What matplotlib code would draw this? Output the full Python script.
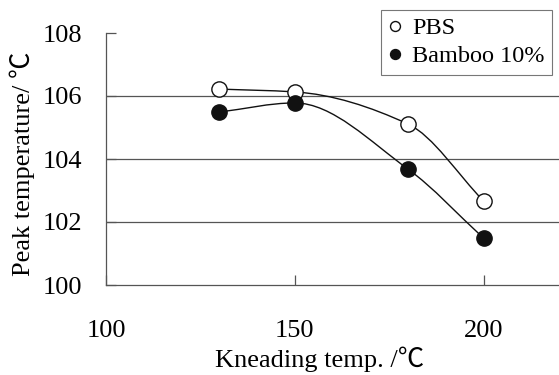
import numpy as np
import matplotlib
matplotlib.use("Agg")
import matplotlib.pyplot as plt
from matplotlib.path import Path
from matplotlib.patches import PathPatch

plt.rcParams['font.family'] = ['Liberation Serif', 'Noto Sans CJK JP', 'DejaVu Sans']

# data
kneading_temp = [130, 150, 180, 200]
pbs_peak = [106.22, 106.13, 105.11, 102.67]
bamboo_peak = [105.49, 105.78, 103.68, 101.49]

x_ticks = [100, 150, 200]
y_ticks = [100, 102, 104, 106, 108]
grid_y = [102, 104, 106]


def smooth_path(xs, ys):
    # monotone (Fritsch-Carlson style) hermite pieces drawn as bezier curves
    x = np.asarray(xs, float)
    y = np.asarray(ys, float)
    h = np.diff(x)
    d = np.diff(y) / h
    m = np.zeros_like(y)
    m[0], m[-1] = d[0], d[-1]
    for i in range(1, len(x) - 1):
        if d[i - 1] * d[i] > 0:
            w1 = 2 * h[i] + h[i - 1]
            w2 = h[i] + 2 * h[i - 1]
            m[i] = (w1 + w2) / (w1 / d[i - 1] + w2 / d[i])
    verts = [(x[0], y[0])]
    codes = [Path.MOVETO]
    for i in range(len(x) - 1):
        verts += [(x[i] + h[i] / 3, y[i] + m[i] * h[i] / 3),
                  (x[i + 1] - h[i] / 3, y[i + 1] - m[i + 1] * h[i] / 3),
                  (x[i + 1], y[i + 1])]
        codes += [Path.CURVE4] * 3
    return Path(verts, codes)


fig = plt.figure(figsize=(5.59, 3.75), dpi=100)
ax = fig.add_axes([106 / 559, 1 - 285 / 375, 453 / 559, 252 / 375])

ax.set_xlim(100, 220)
ax.set_ylim(100, 108)

for g in grid_y:
    ax.axhline(g, color='#555555', lw=0.9, zorder=1)

for ys in (pbs_peak, bamboo_peak):
    ax.add_patch(PathPatch(smooth_path(kneading_temp, ys), facecolor='none',
                           edgecolor='#111111', lw=1.0, zorder=2))

ax.plot(kneading_temp, pbs_peak, 'o', ls='none', ms=11, mfc='white',
        mec='#111111', mew=1.0, label='PBS', zorder=3)
ax.plot(kneading_temp, bamboo_peak, 'o', ls='none', ms=11, mfc='#111111',
        mec='#111111', label='Bamboo 10%', zorder=3)

ax.set_xticks(x_ticks)
ax.set_yticks(y_ticks)

for s in ('top', 'right'):
    ax.spines[s].set_visible(False)
for s in ('left', 'bottom'):
    ax.spines[s].set_color('#555555')
    ax.spines[s].set_linewidth(0.9)

ax.tick_params(axis='x', direction='in', length=7, width=0.9, color='#555555',
               pad=25, labelsize=19)
ax.tick_params(axis='y', direction='in', length=7, width=0.9, color='#555555',
               pad=17, labelsize=19)

ax.set_xlabel('Kneading temp. /℃', fontsize=19)
ax.xaxis.set_label_coords(0.472, -0.245)
ax.set_ylabel('Peak temperature/ ℃', fontsize=19)
ax.yaxis.set_label_coords(-0.157, 0.48)

leg = ax.legend(loc='upper right', bbox_to_anchor=(552 / 559, 1 - 10 / 375),
                bbox_transform=fig.transFigure, fontsize=17.5, frameon=True,
                fancybox=False, markerscale=0.65, handlelength=0.6,
                handletextpad=0.4, borderpad=0.3, labelspacing=0.25,
                borderaxespad=0)
leg.get_frame().set_edgecolor('#555555')
leg.get_frame().set_linewidth(0.8)

fig.savefig('out.png', dpi=100)
